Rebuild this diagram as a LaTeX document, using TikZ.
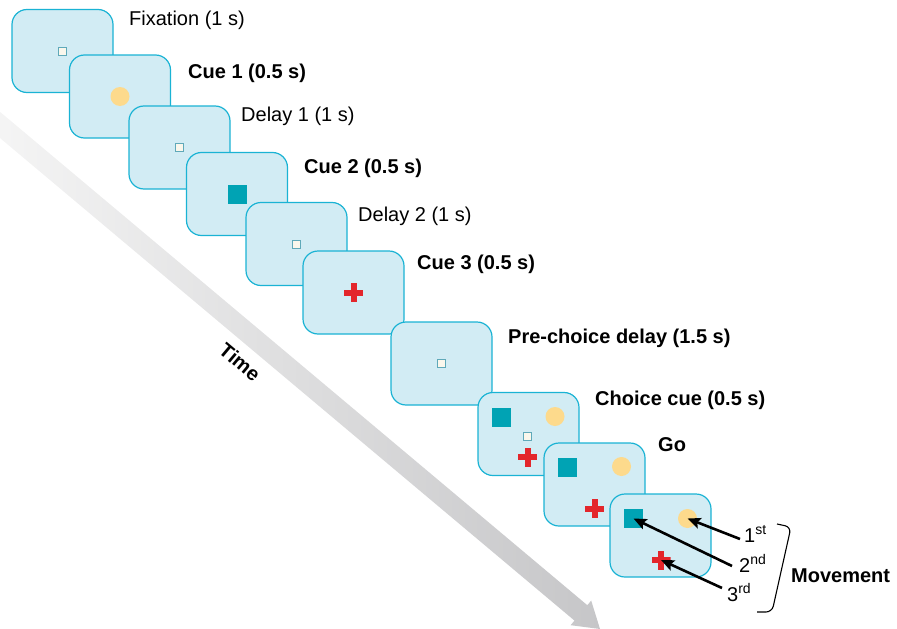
\documentclass[tikz,border=0pt]{standalone}
\usepackage{fontspec}
\setmainfont{Liberation Sans}
\usetikzlibrary{arrows.meta}

\definecolor{scrfill}{HTML}{D2ECF4}
\definecolor{scredge}{HTML}{1AB3D4}
\definecolor{cueteal}{HTML}{00A3B4}
\definecolor{cueyellow}{HTML}{FDDA8C}
\definecolor{cuered}{HTML}{E3262B}
\definecolor{fixfill}{HTML}{FAF7EC}
\definecolor{fixedge}{HTML}{5FA9B9}
\definecolor{bandlight}{HTML}{F6F6F6}
\definecolor{banddark}{HTML}{C6C6C8}

\tikzset{
    screen/.style={draw=scredge, fill=scrfill, line width=1.2pt, rounded corners=15pt,
        minimum width=101pt, minimum height=83pt, inner sep=0pt},
    fixsq/.style={draw=fixedge, fill=fixfill, line width=0.9pt, minimum size=8pt, inner sep=0pt},
    cuesq/.style={fill=cueteal, minimum size=19pt, inner sep=0pt},
    cuecirc/.style={circle, fill=cueyellow, minimum size=19pt, inner sep=0pt},
    cuecross/.style={minimum size=19pt, inner sep=0pt, path picture={
        \fill[cuered] ([yshift=-3pt]path picture bounding box.west) rectangle ([yshift=3pt]path picture bounding box.east);
        \fill[cuered] ([xshift=-3pt]path picture bounding box.south) rectangle ([xshift=3pt]path picture bounding box.north);}},
    phase/.style={anchor=base west, inner sep=0pt, font=\fontsize{20}{24}\selectfont},
    bphase/.style={phase, font=\fontsize{20}{24}\selectfont\bfseries},
    order/.style={line width=2.6pt, -{Stealth[length=13pt, width=11pt, inset=2.5pt]}}
}

\begin{document}
\begin{tikzpicture}[x=1pt, y=-1pt]
        \useasboundingbox (0,0) rectangle (897,629);

        \shade[left color=bandlight, right color=banddark] (-8.9,104.4) -- (587.3,605.2) -- (591.2,600.6)
            -- (600,629) -- (570.6,625.2) -- (574.5,620.6) -- (-21.7,119.8) -- cycle;
        \node[font=\fontsize{20}{24}\selectfont\bfseries, rotate=-40] (time) at (240,362) {Time};

        \node[screen] (fix) at (62.5,51) {};
        \node[fixsq] (fixpt) at (fix) {};
        \node[phase] (lfix) at (129,25) {Fixation (1 s)};

        \node[screen] (cue1) at (120,96.5) {};
        \node[cuecirc] (circ1) at (cue1) {};
        \node[bphase] (lcue1) at (188,78.5) {Cue 1 (0.5 s)};

        \node[screen] (del1) at (179.5,147.5) {};
        \node[fixsq] (fixpt1) at (del1) {};
        \node[phase] (ldel1) at (241,121.5) {Delay 1 (1 s)};

        \node[screen] (cue2) at (237,194) {};
        \node[cuesq] (sq2) at (cue2) {};
        \node[bphase] (lcue2) at (304,173.3) {Cue 2 (0.5 s)};

        \node[screen] (del2) at (296.5,244) {};
        \node[fixsq] (fixpt2) at (del2) {};
        \node[phase] (ldel2) at (358,221.5) {Delay 2 (1 s)};

        \node[screen] (cue3) at (353.5,292.5) {};
        \node[cuecross] (cr3) at (cue3) {};
        \node[bphase] (lcue3) at (417,269.5) {Cue 3 (0.5 s)};

        \node[screen] (pre) at (441.5,363.5) {};
        \node[fixsq] (fixpre) at (pre) {};
        \node[bphase] (lpre) at (508,343) {Pre-choice delay (1.5 s)};

        \node[screen] (choice) at (528.5,434) {};
        \node[cuesq] (csq) at (501.5,417) {};
        \node[cuecirc] (ccirc) at (555,416.5) {};
        \node[fixsq] (cfix) at (527.5,436) {};
        \node[cuecross] (ccr) at (527.5,457) {};
        \node[bphase] (lchoice) at (595,405) {Choice cue (0.5 s)};

        \node[screen] (go) at (594.5,484.5) {};
        \node[cuesq] (gsq) at (567.5,467.5) {};
        \node[cuecirc] (gcirc) at (621.5,466.5) {};
        \node[cuecross] (gcr) at (594.5,508.5) {};
        \node[bphase] (lgo) at (658,451.7) {Go};

        \node[screen] (move) at (660.5,535.5) {};
        \node[cuesq] (msq) at (633.5,518.5) {};
        \node[cuecirc] (mcirc) at (687.5,518.5) {};
        \node[cuecross] (mcr) at (661,560) {};

        \node[phase] (ord1) at (744,542) {1\textsuperscript{st}};
        \node[phase] (ord2) at (739,572) {2\textsuperscript{nd}};
        \node[phase] (ord3) at (727,601) {3\textsuperscript{rd}};
        \draw[order] ([xshift=-4pt,yshift=3pt]ord1.base west) -- (mcirc.center);
        \draw[order] ([xshift=-7pt,yshift=6pt]ord2.base west) -- (msq.center);
        \draw[order] ([xshift=-5pt,yshift=13pt]ord3.base west) -- (mcr.center);

        \draw[line width=1.1pt, rounded corners=6pt] (777,524) -- (791,527) -- (772,612) -- (757,612);
        \node[bphase] (lmove) at (791,582) {Movement};
      \end{tikzpicture}
\end{document}
